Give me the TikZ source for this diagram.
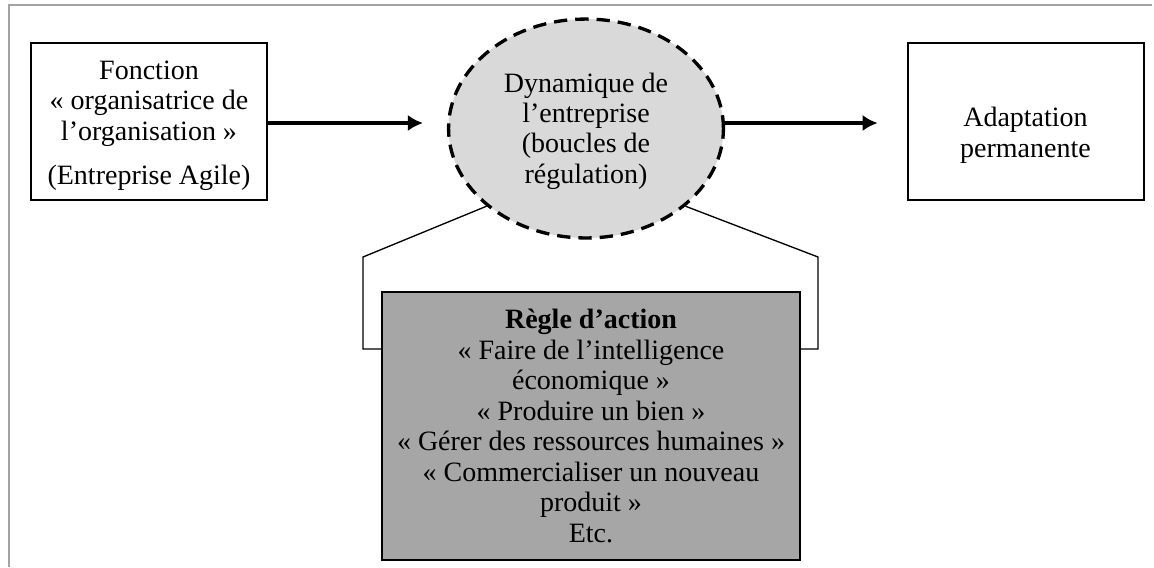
\documentclass[tikz,border=0pt]{standalone}
\usepackage{fontspec}
\setmainfont{Liberation Serif}
\usetikzlibrary{shapes,calc,positioning,arrows.meta}
\definecolor{lightgrey}{HTML}{D9D9D9}
\definecolor{midgrey}{HTML}{A6A6A6}
\definecolor{framegrey}{HTML}{A3A3A3}

\begin{document}
\begin{tikzpicture}[x=0.45pt, y=-0.45pt, font=\fontsize{12.6}{13.7}\selectfont]
      \tikzstyle{box} = [draw, line width=0.9pt, align=center, inner sep=0pt,
        minimum width=106.2pt, minimum height=70.6pt]
      \tikzstyle{flow} = [line width=1.8pt, -{Latex[length=6.8pt,width=7.4pt]}]
      \tikzstyle{link} = [line width=0.6pt]
      \useasboundingbox (0,0) rectangle (1154,567);
      % cadre
      \draw[framegrey, line width=0.9pt] (9,567) -- (9,5) -- (1152,5);
      \node (fonction) [box] at (149,121.5)
        {\rule{0pt}{12pt}Fonction\\« organisatrice de\\l’organisation »\\[6pt](Entreprise Agile)};
      \node (dyn) [ellipse, draw, dashed, dash pattern=on 6pt off 3.6pt,
        line width=1.5pt, fill=lightgrey, align=center, inner sep=0pt,
        minimum width=123.7pt, minimum height=98.5pt] at (586,128.5)
        {\rule{0pt}{11pt}Dynamique de\\l’entreprise\\(boucles de\\régulation)};
      \node (adapt) [box] at (1025.5,121.5)
        {\rule{0pt}{21pt}Adaptation\\permanente};
      \node (regle) [box, fill=midgrey, minimum width=188.1pt, minimum height=120.6pt]
        at (591,426)
        {\textbf{Règle d’action}\\« Faire de l’intelligence\\économique »\\« Produire un bien »\\« Gérer des ressources humaines »\\« Commercialiser un nouveau\\produit »\\Etc.};
      \draw[flow, shorten >=10.8pt] (fonction.east |- 0,123) -- (dyn.west |- 0,123);
      \draw[flow, shorten >=13pt] (dyn.east |- 0,123) -- (adapt.west |- 0,123);
      \coordinate (lcorner) at (363,257);
      \coordinate (rcorner) at (818,257);
      \draw[link] (dyn.218) -- (lcorner) |- ($(regle.north west)+(0,58)$);
      \draw[link] (dyn.322) -- (rcorner) |- ($(regle.north east)+(0,58)$);
    \end{tikzpicture}
\end{document}
